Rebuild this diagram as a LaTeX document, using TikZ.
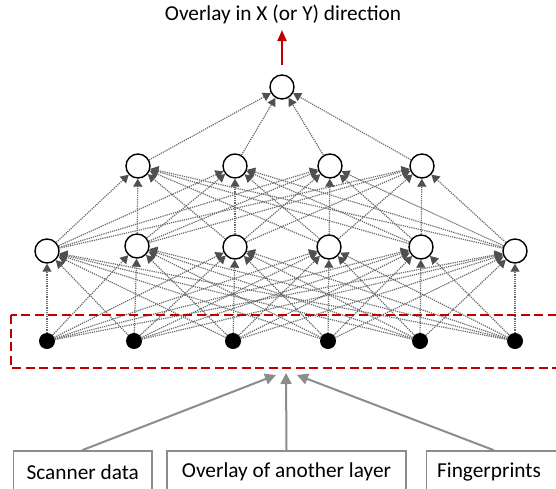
\documentclass[tikz,border=0pt]{standalone}
\usepackage{fontspec}
\setmainfont{Carlito}
\usetikzlibrary{arrows.meta}
\definecolor{edgegray}{HTML}{6A6A6A}
\definecolor{tipgray}{HTML}{505050}
\definecolor{boxgray}{HTML}{8C8C8C}
\definecolor{darkred}{HTML}{C00000}
\begin{document}
\begin{tikzpicture}[x=1pt,y=-1pt,
  hid/.style={circle,draw=black,line width=1.4pt,fill=white,minimum size=24pt,inner sep=0pt},
  inp/.style={circle,fill=black,minimum size=16pt,inner sep=0pt},
  nnedge/.style={draw=edgegray,densely dotted,line width=1.2pt,
    -{Triangle[length=8pt,width=9pt,color=tipgray,fill=tipgray]}},
  srcbox/.style={draw=boxgray,line width=1.5pt,minimum height=42pt,inner sep=0pt,font=\fontsize{21.3}{25}\selectfont},
  feed/.style={draw=boxgray,line width=2pt,-{Triangle[length=11pt,width=11pt]}},
  lbl/.style={font=\fontsize{21.3}{25}\selectfont}]
\useasboundingbox (0,0) rectangle (556,488);

% title and output arrow
\node[lbl] (title) at (283,14) {Overlay in X (or Y) direction};

% nodes
\node[hid] (o) at (282,87) {};
\foreach \i/\x in {1/138,2/235,3/330,4/422}
  \node[hid] (h\i) at (\x,166) {};
\foreach \i/\x/\y in {1/47/251,2/137/246,3/235/247,4/329/247,5/421/247,6/515/251}
  \node[hid] (g\i) at (\x,\y) {};
\foreach \i/\x in {1/47,2/134,3/233,4/328,5/420,6/515}
  \node[inp] (in\i) at (\x,341) {};

% edges
\foreach \a in {1,...,6}
  \foreach \b in {1,...,6}
    \draw[nnedge] (in\a) -- (g\b);
\foreach \a in {1,...,6}
  \foreach \b in {1,...,4}
    \draw[nnedge] (g\a) -- (h\b);
\foreach \a in {1,...,4}
  \draw[nnedge] (h\a) -- (o);

\coordinate (tip) at (282,30);
\draw[darkred,line width=2pt,shorten <=9pt,-{Triangle[length=11pt,width=9pt]}] (o) -- (tip);

% dashed input frame
\draw[darkred,line width=2.5pt,dash pattern=on 9pt off 4.5pt] (11,315) rectangle (575,368);

% source boxes
\node[srcbox,minimum width=138.5pt] (b1) at (82.75,472) {Scanner data};
\node[srcbox,minimum width=239pt] (b2) at (286.5,472) {Overlay of another layer};
\node[srcbox,minimum width=160pt,anchor=west] (b3frame) at (425.5,472) {};
\node[lbl] (b3) at (489,472) {Fingerprints};

\coordinate (cl) at (276,375);
\coordinate (cm) at (286,373);
\coordinate (cr) at (297,375);
\draw[feed] (b1.north -| 82,0) -- (cl);
\draw[feed] (b2.north) -- (cm);
\draw[feed] (b3frame.north -| 494,0) -- (cr);
\end{tikzpicture}
\end{document}
